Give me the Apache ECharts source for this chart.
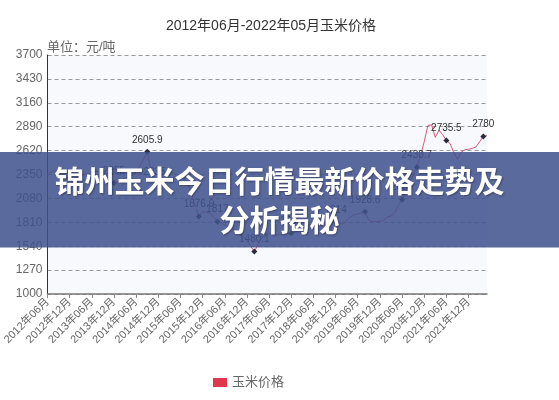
<!DOCTYPE html>
<html>
<head>
<meta charset="utf-8">
<script src="https://cdn.jsdelivr.net/npm/echarts@6/dist/echarts.min.js"></script>
<style>
html,body{margin:0;padding:0;background:#fff;}
#chart{width:559px;height:400px;}
</style>
</head>
<body>
<div id="chart"></div>
<script>
// ---- data ----
var titleText = '2012年06月-2022年05月玉米价格';
var unitText = '单位：元/吨';
var seriesName = '玉米价格';
var bannerText = '锦州玉米今日行情最新价格走势及\n分析揭秘';
var startYear = 2012, startMonth = 6;
// monthly price, 2012-06 .. 2022-05
var prices = [
  2360, 2380, 2400, 2380, 2340, 2300, 2290, 2300, 2320, 2330, 2350, 2360,
  2370, 2390, 2380, 2340, 2300, 2270, 2255, 2270, 2290, 2310, 2330, 2340,
  2380, 2450, 2520, 2605.9, 2400, 2235, 2250, 2270, 2290, 2300, 2310, 2320,
  2330, 2310, 2250, 2120, 2000, 1876.9, 1930, 1925, 1912, 1870, 1817, 1800,
  1780, 1760, 1740, 1720, 1690, 1650, 1600, 1540, 1480.1, 1560, 1635, 1660,
  1686, 1675, 1665, 1670, 1680, 1684, 1686, 1700, 1720, 1740, 1760, 1780,
  1800, 1790, 1770, 1760, 1775, 1800, 1814, 1800, 1790, 1830, 1870, 1895,
  1905, 1915, 1928.6, 1830, 1820, 1818, 1820, 1830, 1870, 1880, 1920, 2000,
  2065, 2150, 2250, 2340, 2430.7, 2560, 2720, 2905, 2910, 2770, 2850, 2800,
  2735.5, 2700, 2600, 2520, 2600, 2630, 2635, 2645, 2660, 2720, 2780, 2790
];
// indices of points drawn with a marker and value label
var markedIdx = [18, 27, 29, 41, 46, 56, 66, 78, 86, 96, 100, 108, 118];
var yMin = 1000, yMax = 3700, yStep = 270;

// ---- build ----
var categories = [];
for (var i = 0; i < prices.length; i++) {
  var mm = startMonth - 1 + i;
  var y = startYear + Math.floor(mm / 12);
  var m = (mm % 12) + 1;
  categories.push(y + '年' + (m < 10 ? '0' + m : m) + '月');
}
var seriesData = prices.map(function (v, i) {
  if (markedIdx.indexOf(i) >= 0) {
    return {
      value: v,
      symbol: 'diamond',
      symbolSize: 6,
      itemStyle: {color: '#2b2b3a'},
      label: {show: true, position: 'top', distance: 4, color: '#333', fontSize: 10,
        fontFamily: 'Liberation Sans, Arial, sans-serif'}
    };
  }
  return {value: v, symbol: 'none'};
});

var chart = echarts.init(document.getElementById('chart'), null, {renderer: 'canvas'});
var font = 'Liberation Sans, Noto Sans CJK SC, sans-serif';
chart.setOption({
  animation: false,
  backgroundColor: '#ffffff',
  title: {
    text: titleText, left: 266, top: 14, textAlign: 'center',
    textStyle: {fontSize: 14, fontWeight: 'normal', color: '#333', fontFamily: font}
  },
  legend: {
    left: 208, top: 371, itemWidth: 14, itemHeight: 9, itemGap: 6,
    textStyle: {fontSize: 13, color: '#666', fontFamily: font},
    data: [{name: seriesName, icon: 'rect', itemStyle: {color: '#e0384f'}}]
  },
  grid: {
    left: 46, right: 72, top: 55, bottom: 106, containLabel: false,
    show: true, backgroundColor: '#f8f9fd', borderWidth: 0
  },
  xAxis: {
    type: 'category', data: categories, boundaryGap: false,
    axisLine: {lineStyle: {color: '#777', width: 1.5}},
    axisTick: {show: true, interval: 5, length: 4, lineStyle: {color: '#888'}},
    axisLabel: {interval: 5, rotate: 45, fontSize: 11, color: '#666', margin: 6, fontFamily: font},
    splitLine: {show: false}
  },
  yAxis: {
    type: 'value', min: yMin, max: yMax, interval: yStep,
    axisLine: {show: true, lineStyle: {color: '#333', width: 1}},
    axisTick: {show: false},
    axisLabel: {fontSize: 12, color: '#666', margin: 5, fontFamily: font,
      formatter: function (v) { return String(v); }},
    splitLine: {show: true, lineStyle: {color: '#999', type: [4, 3], width: 1}}
  },
  graphic: [
    {
      type: 'text', left: 47, top: 41, z: 10,
      style: {text: unitText, fill: '#666', font: '13px ' + font}
    },
    {
      type: 'rect', left: 0, top: 152, z: 100,
      shape: {width: 559, height: 95.5},
      style: {fill: 'rgba(64,82,141,0.86)'}
    },
    {
      type: 'text', z: 101, left: 'center', top: 161,
      style: {
        text: bannerText, fill: '#ffffff', textAlign: 'center',
        font: 'bold 30px "Noto Sans CJK SC", sans-serif', lineHeight: 39,
        textShadowColor: 'rgba(0,0,0,0.35)', textShadowBlur: 2, textShadowOffsetX: 1, textShadowOffsetY: 1
      }
    }
  ],
  series: [{
    name: seriesName, type: 'line', data: seriesData,
    showAllSymbol: true, symbol: 'none',
    itemStyle: {color: '#e0384f'},
    lineStyle: {color: '#d35a78', width: 1}
  }]
});
</script>
</body>
</html>
